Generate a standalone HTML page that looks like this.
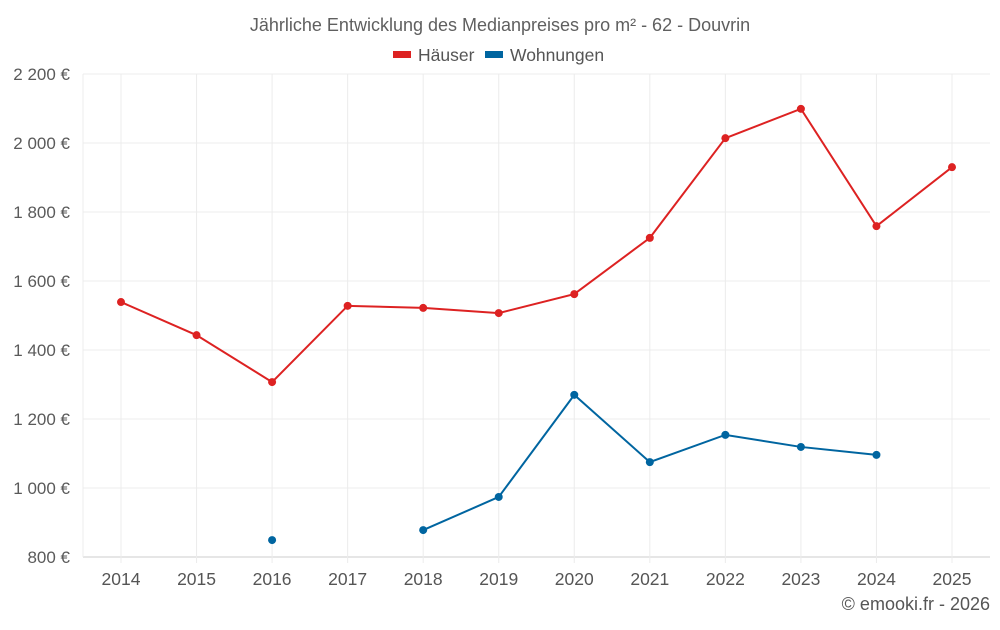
<!DOCTYPE html>
<html><head><meta charset="utf-8"><style>
body{margin:0;background:#fff;font-family:"Liberation Sans",sans-serif;}
svg text{font-family:"Liberation Sans",sans-serif;}
</style></head><body>
<svg id="c" width="1000" height="625">
<text x="500" y="31" text-anchor="middle" font-size="18" fill="#5f5f5f">Jährliche Entwicklung des Medianpreises pro m² - 62 - Douvrin</text>
<g>
<g><rect x="393" y="51" width="18" height="7" fill="#dd2222"/><text x="418" y="61" font-size="17.5" fill="#555">Häuser</text></g>
<g><rect x="485" y="51" width="18" height="7" fill="#0065a0"/><text x="510" y="61" font-size="17.5" fill="#555">Wohnungen</text></g>
</g>
<g id="grid"></g><g id="axes"></g><g id="series"></g>
<text x="990" y="610" text-anchor="end" font-size="18" fill="#555">© emooki.fr - 2026</text>
</svg>
<script>
const years=[2014,2015,2016,2017,2018,2019,2020,2021,2022,2023,2024,2025];
const houses=[1539,1443,1307,1528,1522,1507,1562,1725,2014,2099,1759,1930];
const flats=[null,null,849,null,878,974,1270,1075,1154,1119,1096,null];
const yTicks=[800,1000,1200,1400,1600,1800,2000,2200];
const yLabels=["800 €","1 000 €","1 200 €","1 400 €","1 600 €","1 800 €","2 000 €","2 200 €"];
const NS="http://www.w3.org/2000/svg";
const x=i=>121+i*(952-121)/11;
const y=v=>557-(v-800)*(557-74)/1400;
function mk(t,a,p){const e=document.createElementNS(NS,t);for(const k in a)e.setAttribute(k,a[k]);p.appendChild(e);return e;}
const g=document.getElementById('grid'),ax=document.getElementById('axes'),s=document.getElementById('series');
yTicks.forEach((v,i)=>{
 const l=mk('line',{x1:83,x2:990,y1:y(v),y2:y(v),stroke:i==0?'#ccc':'#ececec'},g);
 
 
 const t=mk('text',{x:70,y:y(v)+6,'text-anchor':'end','font-size':17,fill:'#5a5a5a'},ax);
 t.textContent=yLabels[i];
 
 
});
const vl=mk('line',{x1:83,x2:83,y1:74,y2:557,stroke:'#ececec'},g);


years.forEach((yr,i)=>{
 const l=mk('line',{x1:x(i),x2:x(i),y1:74,y2:563,stroke:'#ececec'},g);
 
 
 const t=mk('text',{x:x(i),y:585,'text-anchor':'middle','font-size':17.5,fill:'#555'},ax);
 t.textContent=yr;
 
 
});
function draw(data,col,name){
 let d='',pen=false;
 data.forEach((v,i)=>{if(v==null){pen=false;return;}d+=(pen?'L':'M')+x(i)+' '+y(v)+' ';pen=true;});
 const p=mk('path',{d:d,fill:'none',stroke:col,'stroke-width':2},s);
 
 
 data.forEach((v,i)=>{if(v==null)return;
  const c=mk('circle',{cx:x(i),cy:y(v),r:4,fill:col},s);
  
  
 });
}
draw(houses,'#dd2222','haeuser');
draw(flats,'#0065a0','wohnungen');
</script>
</body></html>
